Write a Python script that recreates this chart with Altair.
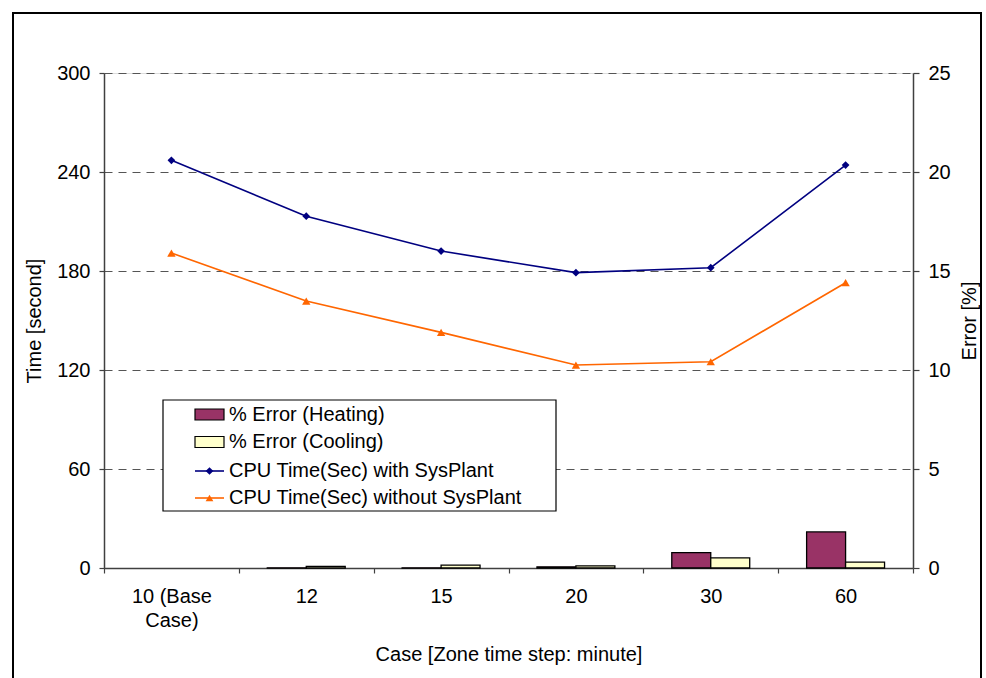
import altair as alt
import pandas as pd

# Zone time step cases (minutes)
cases = ["10 (Base Case)", "12", "15", "20", "30", "60"]

# CPU time in seconds
cpu_with_sysplant = [247.1, 213.2, 192.1, 179.0, 182.0, 244.2]
cpu_without_sysplant = [190.9, 161.8, 142.8, 123.0, 125.0, 172.9]

# Percentage error against the base case
err_heating = [0.0, 0.01, 0.01, 0.06, 0.78, 1.82]
err_cooling = [0.0, 0.08, 0.15, 0.11, 0.51, 0.30]

series_names = [
    "% Error (Heating)",
    "% Error (Cooling)",
    "CPU Time(Sec) with SysPlant",
    "CPU Time(Sec) without SysPlant",
]
HEAT, COOL, BLUE, ORANGE = "#993366", "#FFFFCC", "#000080", "#FF6600"
FONT = "Liberation Sans"
AXIS_GRAY = "#404040"

W, H = 809, 495

bar_df = pd.DataFrame(
    {
        "case": cases * 2,
        "series": [series_names[0]] * len(cases) + [series_names[1]] * len(cases),
        "value": err_heating + err_cooling,
    }
)
time_df = pd.DataFrame(
    {"case": cases, "with_sp": cpu_with_sysplant, "without_sp": cpu_without_sysplant}
)

x_enc = alt.X(
    "case:N",
    sort=cases,
    scale=alt.Scale(domain=cases, paddingInner=0, paddingOuter=0),
    axis=alt.Axis(
        orient="bottom",
        title="Case [Zone time step: minute]",
        labelAngle=0,
        tickBand="extent",
        labelExpr="datum.label == '10 (Base Case)' ? ['10 (Base', 'Case)'] : datum.label",
        labelLineHeight=24,
        labelFontSize=20,
        labelPadding=13,
        labelColor="black",
        titleFontSize=20,
        titleFontWeight="normal",
        titleColor="black",
        titlePadding=14,
        domainColor=AXIS_GRAY,
        domainWidth=1.5,
        tickColor=AXIS_GRAY,
        tickSize=5,
        tickWidth=1.2,
        grid=False,
    ),
)

left_axis = alt.Axis(
    orient="left",
    title="Time [second]",
    values=[0, 60, 120, 180, 240, 300],
    grid=True,
    gridDash=[8, 6],
    gridColor="#555555",
    gridWidth=1,
    domainColor=AXIS_GRAY,
    domainWidth=1.5,
    tickColor=AXIS_GRAY,
    tickSize=5,
    tickWidth=1.2,
    labelFontSize=20,
    labelPadding=9,
    labelColor="black",
    titleFontSize=20,
    titleFontWeight="normal",
    titleColor="black",
    titlePadding=12,
)
right_axis = alt.Axis(
    orient="right",
    title="Error [%]",
    values=[0, 5, 10, 15, 20, 25],
    grid=False,
    domainColor=AXIS_GRAY,
    domainWidth=1.5,
    tickColor=AXIS_GRAY,
    tickSize=6,
    tickWidth=1.2,
    labelFontSize=20,
    labelPadding=9,
    labelColor="black",
    titleFontSize=20,
    titleFontWeight="normal",
    titleColor="black",
    titleAngle=270,
    titleBaseline="top",
    titlePadding=9,
)
time_scale = alt.Scale(domain=[0, 300], nice=False)

# Error bars on the right-hand axis (zero-height bars are left out)
bars = (
    alt.Chart(bar_df)
    .transform_filter(alt.datum.value > 0)
    .mark_bar(stroke="black", strokeWidth=1.3)
    .encode(
        x=x_enc,
        xOffset=alt.XOffset(
            "series:N",
            sort=series_names[:2],
            scale=alt.Scale(domain=series_names[:2], paddingInner=0, paddingOuter=0.73),
        ),
        y=alt.Y("value:Q", scale=alt.Scale(domain=[0, 25], nice=False), axis=right_axis),
        fill=alt.Fill(
            "series:N",
            scale=alt.Scale(domain=series_names[:2], range=[HEAT, COOL]),
            legend=None,
        ),
    )
)


def time_layers(field, color, shape, size):
    base = alt.Chart(time_df).encode(
        x=x_enc, y=alt.Y(f"{field}:Q", scale=time_scale, axis=left_axis)
    )
    line = base.mark_line(color=color, strokeWidth=1.6)
    pts = base.mark_point(shape=shape, filled=True, size=size, color=color, opacity=1)
    return [line, pts]


times = alt.layer(
    *time_layers("with_sp", BLUE, "diamond", 60),
    *time_layers("without_sp", ORANGE, "triangle-up", 70),
)

one_row = pd.DataFrame({"k": [0]})

# Outer frame around the whole figure
frame = (
    alt.Chart(one_row)
    .mark_rect(fillOpacity=0, stroke="black", strokeWidth=2)
    .encode(x=alt.value(-91), x2=alt.value(877), y=alt.value(-60), y2=alt.value(700))
)

# Legend drawn as a boxed panel inside the plot
legend_parts = [
    alt.Chart(one_row)
    .mark_rect(fill="white", stroke="black", strokeWidth=1.2)
    .encode(x=alt.value(59), x2=alt.value(452), y=alt.value(327), y2=alt.value(438))
]
rows_y = [341.5, 369, 398, 425]
sym_x0, sym_x1, text_x = 91, 120, 125
for i, name in enumerate(series_names):
    ry = rows_y[i]
    if i < 2:
        legend_parts.append(
            alt.Chart(one_row)
            .mark_rect(fill=[HEAT, COOL][i], stroke="black", strokeWidth=1.2)
            .encode(
                x=alt.value(sym_x0), x2=alt.value(sym_x1),
                y=alt.value(ry - 5.5), y2=alt.value(ry + 5.5),
            )
        )
    else:
        color = [BLUE, ORANGE][i - 2]
        shape = ["diamond", "triangle-up"][i - 2]
        legend_parts.append(
            alt.Chart(one_row)
            .mark_rule(color=color, strokeWidth=1.6)
            .encode(x=alt.value(sym_x0), x2=alt.value(sym_x1), y=alt.value(ry))
        )
        legend_parts.append(
            alt.Chart(one_row)
            .mark_point(shape=shape, filled=True, size=60, color=color, opacity=1)
            .encode(x=alt.value((sym_x0 + sym_x1) / 2), y=alt.value(ry))
        )
    legend_parts.append(
        alt.Chart(pd.DataFrame({"label": [name]}))
        .mark_text(align="left", baseline="middle", fontSize=20, font=FONT, color="black")
        .encode(x=alt.value(text_x), y=alt.value(ry), text="label:N")
    )

chart = (
    alt.layer(frame, bars, times, *legend_parts)
    .resolve_scale(y="independent")
    .properties(
        width=W,
        height=H,
        autosize=alt.AutoSizeParams(type="none"),
        padding={"left": 104, "top": 73, "right": 73, "bottom": 110},
        background="white",
    )
    .configure_view(stroke=None)
    .configure(font=FONT)
)

chart.save("out.html", embed_options={"renderer": "svg", "actions": False})
